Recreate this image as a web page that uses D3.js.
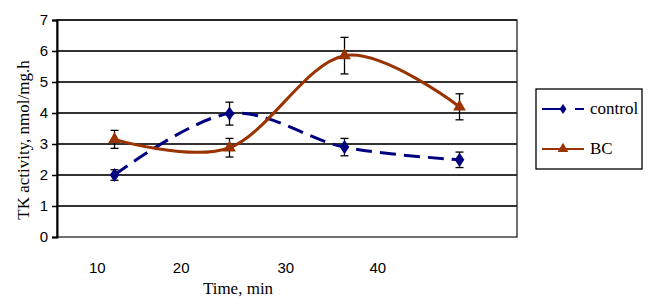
<!DOCTYPE html>
<html lang="en">
<head>
  <meta charset="UTF-8">
  <title>TK activity</title>
  <script src="https://d3js.org/d3.v7.min.js"></script>
  <style>
    body { margin: 0; background: #fff; }
  </style>
</head>
<body>
<script>
  // category slots (the four sampling points)
  const slots = ["t1", "t2", "t3", "t4"];
  const control = [2.0, 3.98, 2.9, 2.49];
  const controlErr = [0.17, 0.37, 0.28, 0.25];
  const bc = [3.15, 2.88, 5.85, 4.2];
  const bcErr = [0.29, 0.3, 0.59, 0.42];
  // x tick labels and where they sit, in slot units
  const xLabels = ["10", "20", "30", "40"];
  const xLabelPos = [0.35, 1.08, 1.99, 2.79];
  const yTicks = [0, 1, 2, 3, 4, 5, 6, 7];

  const SANS = "Arial, 'Liberation Sans', sans-serif";
  const SERIF = "'Liberation Serif', serif";

  const margin = { top: 20, right: 133, bottom: 67, left: 57 };
  const width = 650 - margin.left - margin.right;
  const height = 304 - margin.top - margin.bottom;

  const svg = d3.select("body").append("svg")
    .attr("width", 650)
    .attr("height", 304);

  const g = svg.append("g")
    .attr("transform", "translate(" + margin.left + "," + margin.top + ")");

  const x = d3.scaleLinear().domain([0, slots.length]).range([0, width]);
  const y = d3.scaleLinear().domain([0, 7]).range([height, 0]);
  const cx = i => x(i + 0.5);

  // gridlines
  g.selectAll(".grid").data(yTicks.slice(1)).enter().append("line")
    .attr("x1", 0).attr("x2", width)
    .attr("y1", d => y(d)).attr("y2", d => y(d))
    .attr("stroke", "#333").attr("stroke-width", 2);

  // plot border
  g.append("rect")
    .attr("width", width).attr("height", height)
    .attr("fill", "none").attr("stroke", "#222").attr("stroke-width", 1.3);

  // y axis
  const yAxis = g.append("g")
    .call(d3.axisLeft(y).tickValues(yTicks).tickFormat(d3.format("d")).tickSize(5).tickPadding(4));
  yAxis.select(".domain").attr("stroke", "#000").attr("stroke-width", 2);
  yAxis.selectAll(".tick line").attr("stroke", "#000").attr("stroke-width", 1.5);
  yAxis.selectAll(".tick text")
    .style("font-family", SANS).style("font-size", "15px").attr("fill", "#000");

  // x labels
  g.selectAll(".xl").data(xLabels).enter().append("text")
    .attr("x", (d, i) => x(xLabelPos[i]))
    .attr("y", height + 36)
    .attr("text-anchor", "middle")
    .style("font-family", SANS)
    .style("font-size", "15px")
    .text(d => d);

  svg.append("text")
    .attr("x", 238).attr("y", 294)
    .attr("text-anchor", "middle")
    .style("font-family", SERIF)
    .style("font-size", "17px")
    .text("Time, min");

  svg.append("text")
    .attr("transform", "translate(29,140) rotate(-90)")
    .attr("text-anchor", "middle")
    .style("font-family", SERIF)
    .style("font-size", "17px")
    .text("TK activity, nmol/mg.h");

  const line = d3.line()
    .x((d, i) => cx(i))
    .y(d => y(d))
    .curve(d3.curveCatmullRom.alpha(0));

  const series = [
    { name: "control", values: control, err: controlErr, color: "#000080", dash: "16,8", marker: d3.symbolDiamond },
    { name: "BC", values: bc, err: bcErr, color: "#993300", dash: null, marker: d3.symbolTriangle }
  ];

  series.forEach(s => {
    g.append("path")
      .datum(s.values)
      .attr("fill", "none")
      .attr("stroke", s.color)
      .attr("stroke-width", 3)
      .attr("stroke-dasharray", s.dash)
      .attr("d", line);

    // error bars
    const eb = g.append("g");
    s.values.forEach((v, i) => {
      const lo = y(v - s.err[i]), hi = y(v + s.err[i]);
      eb.append("line").attr("x1", cx(i)).attr("x2", cx(i)).attr("y1", lo).attr("y2", hi)
        .attr("stroke", "#000").attr("stroke-width", 1.3);
      [lo, hi].forEach(yy => eb.append("line")
        .attr("x1", cx(i) - 4).attr("x2", cx(i) + 4).attr("y1", yy).attr("y2", yy)
        .attr("stroke", "#000").attr("stroke-width", 1.3));
    });

    g.selectAll(".m-" + s.name).data(s.values).enter().append("path")
      .attr("transform", (d, i) => "translate(" + cx(i) + "," + y(d) + ")" + (s.name === "control" ? " scale(1,0.85)" : ""))
      .attr("d", d3.symbol().type(s.marker).size(s.name === "control" ? 80 : 70))
      .attr("fill", s.color);
  });

  // legend
  const lg = svg.append("g").attr("transform", "translate(536,89)");
  lg.append("rect").attr("width", 106).attr("height", 80)
    .attr("fill", "#fff").attr("stroke", "#000").attr("stroke-width", 1.3);

  series.forEach((s, i) => {
    const row = lg.append("g").attr("transform", "translate(0," + (20 + i * 40) + ")");
    if (s.dash) {
      row.append("line").attr("x1", 6).attr("x2", 30).attr("stroke", s.color).attr("stroke-width", 2);
      row.append("line").attr("x1", 39).attr("x2", 48).attr("stroke", s.color).attr("stroke-width", 2);
    } else {
      row.append("line").attr("x1", 6).attr("x2", 48).attr("stroke", s.color).attr("stroke-width", 2);
    }
    row.append("path")
      .attr("transform", "translate(27,0)" + (s.dash ? " scale(1,0.85)" : ""))
      .attr("d", d3.symbol().type(s.marker).size(s.dash ? 40 : 50))
      .attr("fill", s.color);
    row.append("text")
      .attr("x", 54).attr("y", 5)
      .style("font-family", SERIF)
      .style("font-size", "17px")
      .text(s.name);
  });
</script>
</body>
</html>
